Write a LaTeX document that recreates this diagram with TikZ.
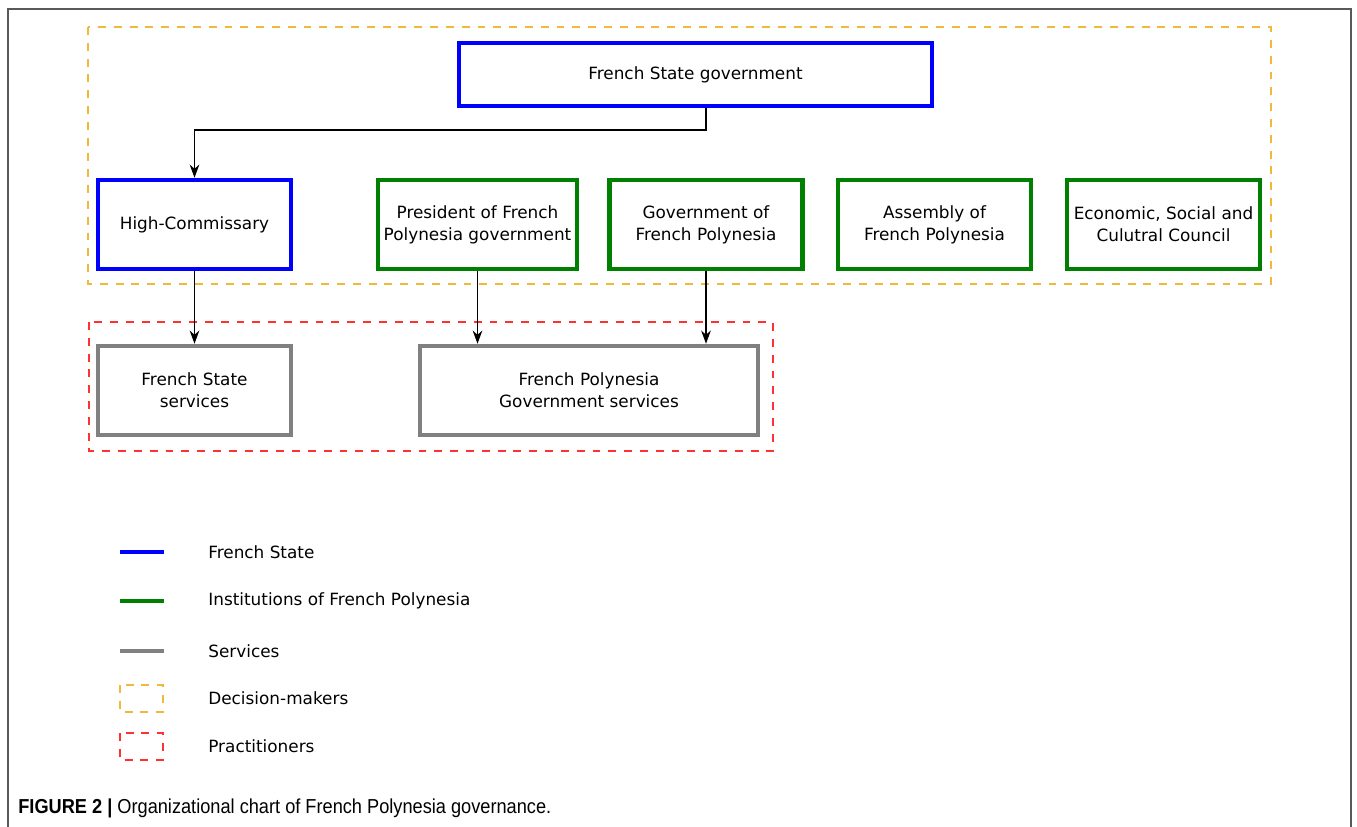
\documentclass[tikz,border=0pt]{standalone}
\usepackage{graphicx}
\usepackage{fontspec}
\setmainfont{DejaVu Sans}
\newfontfamily\capfont{Liberation Sans}
\usetikzlibrary{arrows.meta}

\definecolor{stateblue}{RGB}{0,0,255}
\definecolor{instgreen}{RGB}{0,128,0}
\definecolor{servgray}{RGB}{128,128,128}
\definecolor{decorange}{RGB}{240,185,60}
\definecolor{pracred}{RGB}{255,50,50}

\begin{document}
\begin{tikzpicture}[x=0.02cm,y=-0.02cm,
  box/.style={draw,line width=2.6pt,fill=white,align=center,minimum width=3.86cm,minimum height=1.78cm,font=\fontsize{9.6}{12.4}\selectfont},
  statebox/.style={box,draw=stateblue},
  instbox/.style={box,draw=instgreen},
  servbox/.style={box,draw=servgray},
  link/.style={-{Stealth[length=7.5pt,width=5.5pt]},line width=0.6pt},
  group/.style={line width=0.85pt,dash pattern=on 4.5pt off 4.5pt},
  keyline/.style={line width=2.4pt},
  keytext/.style={anchor=west,inner sep=0pt,font=\fontsize{9.6}{12.4}\selectfont}]

  \useasboundingbox (0,0) rectangle (1357,827);
  \draw [black!65,line width=0.7pt] (8,827) -- (8,9) -- (1351,9) -- (1351,827);

  \draw [group,draw=decorange] (88,27) rectangle (1271,284);
  \draw [group,draw=pracred] (89,322) rectangle (773,451);

  \node [statebox,minimum width=9.46cm,minimum height=1.26cm] (fsg) at (695.5,74.5) {French State government};
  \node [statebox] (hc) at (194.5,224.5) {High-Commissary};
  \node [instbox] (pres) at (477.5,224.5) {President of French\\Polynesia government};
  \node [instbox] (gov) at (706,224.5) {Government of\\French Polynesia};
  \node [instbox] (asm) at (934.5,224.5) {Assembly of\\French Polynesia};
  \node [instbox] (esc) at (1163.5,224.5) {Economic, Social and\\Culutral Council};
  \node [servbox] (fss) at (194.5,390.5) {French State\\services};
  \node [servbox,minimum width=6.76cm] (fpgs) at (589,390.5) {French Polynesia\\Government services};

  \coordinate (bend) at (706,130);
  \draw [link] (fsg.south -| bend) -- (bend) -| (hc.north);
  \draw [link] (hc.south) -- (fss.north);
  \draw [link] (pres.south) -- (pres.south |- fpgs.north);
  \draw [link] (gov.south) -- (gov.south |- fpgs.north);

  \draw [keyline,stateblue] (120,552) -- (164,552);
  \draw [keyline,instgreen] (120,601) -- (164,601);
  \draw [keyline,servgray] (120,651) -- (164,651);
  \draw [group,draw=decorange] (120,685) rectangle (163,712);
  \draw [group,draw=pracred] (120,733) rectangle (163,760);
  \node [keytext] (kstate) at (208,552) {French State};
  \node [keytext] (kinst) at (208,601) {Institutions of French Polynesia};
  \node [keytext] (kserv) at (208,651) {Services};
  \node [keytext] (kdec) at (208,698) {Decision-makers};
  \node [keytext] (kprac) at (208,746) {Practitioners};

  \node [anchor=west,inner sep=0pt] (caption) at (18,808) {\resizebox{10.66cm}{\height}{\capfont\fontsize{11.5}{13}\selectfont\textbf{FIGURE 2 |} Organizational chart of French Polynesia governance.}};

\end{tikzpicture}
\end{document}
